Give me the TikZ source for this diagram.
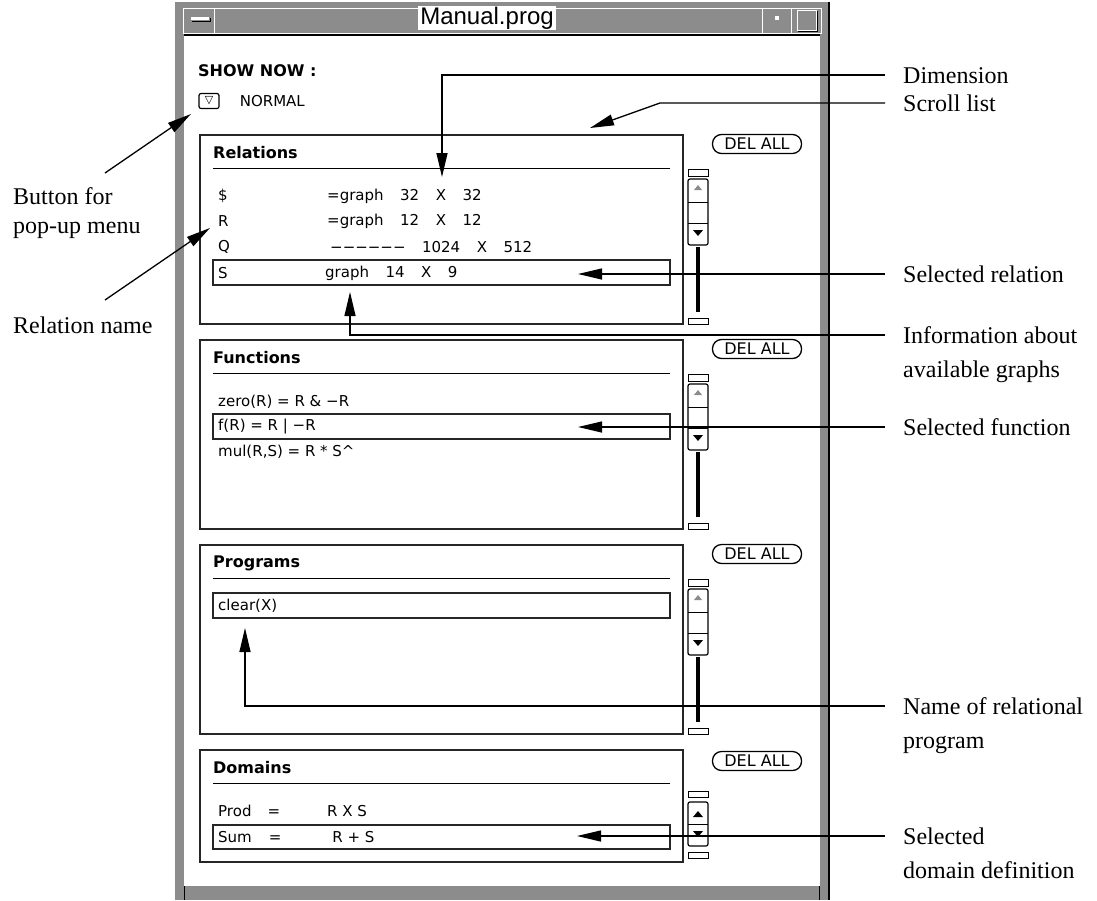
\documentclass[tikz,border=0pt]{standalone}
\usepackage{fontspec}
\setmainfont{Liberation Serif}
\newfontfamily\uifont{DejaVu Sans}
\newfontfamily\titlefont{Liberation Sans}
\usetikzlibrary{arrows.meta, positioning, calc}
\newcommand{\colgap}{\hspace{1.1em}}

\tikzset{
  lbl/.style={font=\fontsize{24}{34}\selectfont, anchor=base west, align=left, inner sep=0pt},
  ui/.style={font=\uifont\fontsize{15}{18}\selectfont, anchor=west, inner sep=0pt},
  uibold/.style={font=\uifont\bfseries\fontsize{16}{18}\selectfont, anchor=west, inner sep=0pt},
  panel/.style={draw=black!85, line width=1.2pt},
  selbox/.style={draw=black!85, line width=1.2pt},
  delall/.style={draw, line width=1.3pt, rounded corners=9pt, minimum width=89pt, minimum height=19pt, inner sep=0pt, font=\uifont\fontsize{16}{18}\selectfont},
  callout/.style={line width=1.3pt, -{Triangle[length=24pt,width=11pt]}},
}

\begin{document}
\begin{tikzpicture}[x=1pt, y=-1pt]
\useasboundingbox (0,0) rectangle (1097,900);

% Window frame and title bar
\fill[black!45] (175,2) rectangle (828,900);
\draw[line width=2pt] (829,2) -- (829,900);
\fill[white] (184,35) rectangle (820,886);
\draw[line width=1.5pt] (184,35) -- (820,35);
\draw[white, line width=0.8pt] (183,8) rectangle (821,33);
\draw[white, line width=0.8pt] (214,8) -- (214,33) (762,8) -- (762,33) (791,8) -- (791,33);
\fill[white] (191,17) rectangle (209,20);
\draw[line width=1pt] (192,21) -- (210,21) -- (210,18);
\fill[white] (775,16) rectangle (779,20);
\draw[white, line width=0.8pt] (797,10) rectangle (816,30);
\draw[line width=1pt] (798,31) -- (817,31) -- (817,11);
\draw[line width=1pt] (184,886) -- (184,900) (819,886) -- (819,900);
\node[fill=white, inner xsep=2pt, inner ysep=1pt, font=\titlefont\fontsize{24}{26}\selectfont] (title) at (487,18) {Manual.prog};

% Show now selector
\node[uibold] (shownow) at (198,71) {SHOW NOW :};
\node[draw, line width=1.2pt, rounded corners=2pt, minimum width=20pt, minimum height=15pt, inner sep=0pt, font=\uifont\fontsize{11}{12}\selectfont] (menubtn) at (209,101) {▽};
\node[ui, right=20pt of menubtn] (mode) {NORMAL};

% Relations
\draw[panel] (200,135) rectangle (683,324);
\node[uibold] (reltitle) at (213,153) {Relations};
\draw[line width=1pt] (213,168) -- (670,168);
\node[ui] (r1name) at (218,196) {\$};
\node[ui] (r1val) at (327,196) {=graph\colgap 32\colgap X\colgap 32};
\node[ui] (r2name) at (218,221) {R};
\node[ui] (r2val) at (327,221) {=graph\colgap 12\colgap X\colgap 12};
\node[ui] (r3name) at (218,247) {Q};
\node[ui] (r3val) at (330,247) {−−−−−−\colgap 1024\colgap X\colgap 512};
\draw[selbox] (213,260) rectangle (670,285);
\node[ui] (r4name) at (218,273) {S};
\node[ui] (r4val) at (325,273) {graph\colgap 14\colgap X\colgap 9};

% Functions
\draw[panel] (200,340) rectangle (683,529);
\node[uibold] (funtitle) at (213,358) {Functions};
\draw[line width=1pt] (213,373) -- (670,373);
\node[ui] (f1) at (218,402) {zero(R) = R \& −R};
\draw[selbox] (213,414) rectangle (670,439);
\node[ui] (f2) at (218,427) {f(R) = R | −R};
\node[ui] (f3) at (218,452) {mul(R,S) = R * S\textasciicircum};

% Programs
\draw[panel] (200,545) rectangle (683,734);
\node[uibold] (progtitle) at (213,563) {Programs};
\draw[line width=1pt] (213,578) -- (670,578);
\draw[selbox] (213,593) rectangle (670,618);
\node[ui] (p1) at (218,606) {clear(X)};

% Domains
\draw[panel] (200,750) rectangle (683,862);
\node[uibold] (domtitle) at (213,768) {Domains};
\draw[line width=1pt] (213,783) -- (670,783);
\node[ui] (d1) at (218,811) {Prod\hspace{16pt}=\hspace{47pt}R X S};
\draw[selbox] (213,825) rectangle (670,849);
\node[ui] (d2) at (218,837) {Sum\hspace{17pt}=\hspace{51pt}R + S};

% Scroll bars and buttons
\foreach \o/\n in {0/rel,205/fun,410/prog} {
  \node[delall] (del\n) at (757,144+\o) {DEL ALL};
  \draw[line width=1pt] (688,169+\o) rectangle (708,176+\o);
  \draw[line width=1.2pt, rounded corners=2pt] (688,179+\o) rectangle (708,245+\o);
  \draw[line width=1pt] (688,202+\o) -- (708,202+\o) (688,223+\o) -- (708,223+\o);
  \fill[black!45] (694,190+\o) -- (698,185+\o) -- (702,190+\o) -- cycle;
  \fill (693,230+\o) -- (703,230+\o) -- (698,236+\o) -- cycle;
  \draw[line width=4pt] (698,247+\o) -- (698,312+\o);
  \draw[line width=1pt] (688,318+\o) rectangle (708,324+\o);
}
\node[delall] (deldom) at (757,761) {DEL ALL};
\draw[line width=1pt] (688,791) rectangle (708,797);
\draw[line width=1.2pt, rounded corners=2pt] (688,802) rectangle (708,846);
\draw[line width=1pt] (688,824) -- (708,824);
\fill (693,817) -- (703,817) -- (698,811) -- cycle;
\fill (693,831) -- (703,831) -- (698,837) -- cycle;
\draw[line width=1pt] (688,852) rectangle (708,858);

% Labels (base = last line)
\node[lbl] (dim) at (903,83) {Dimension};
\node[lbl] (scroll) at (903,111) {Scroll list};
\node[lbl] (selrel) at (903,282) {Selected relation};
\node[lbl] (info) at (903,377) {Information about\\available graphs};
\node[lbl] (selfun) at (903,435) {Selected function};
\node[lbl] (progname) at (903,748) {Name of relational\\program};
\node[lbl] (seldom) at (903,878) {Selected\\domain definition};
\node[lbl, font=\fontsize{24}{29}\selectfont] (btnlbl) at (13,233) {Button for\\pop-up menu};
\node[lbl] (relname) at (13,333) {Relation name};

% Arrow tips
\coordinate (dimtip) at (442,177);
\coordinate (scrollbend) at (660,103);
\coordinate (scrolltip) at (590,128);
\coordinate (selreltip) at (578,274);
\coordinate (infotip) at (350,292);
\coordinate (selfuntip) at (578,427);
\coordinate (progtip) at (245,628);
\coordinate (seldomtip) at (577,836);
\coordinate (btntip) at (191,114);
\coordinate (relnametip) at (210,228);

% Callouts
\draw[callout] ([xshift=-18pt,yshift=8pt]dim.base west) -| (dimtip);
\draw[callout] ([xshift=-18pt,yshift=8pt]scroll.base west) -- (scrollbend) -- (scrolltip);
\draw[callout] ([xshift=-18pt,yshift=8pt]selrel.base west) -- (selreltip);
\draw[callout] ([xshift=-18pt,yshift=42pt]info.base west) -| (infotip);
\draw[callout] ([xshift=-18pt,yshift=8pt]selfun.base west) -- (selfuntip);
\draw[callout] ([xshift=-18pt,yshift=42pt]progname.base west) -| (progtip);
\draw[callout] ([xshift=-18pt,yshift=42pt]seldom.base west) -- (seldomtip);
\draw[callout] ([xshift=92pt,yshift=60pt]btnlbl.base west) -- (btntip);
\draw[callout] ([xshift=92pt,yshift=33pt]relname.base west) -- (relnametip);

\end{tikzpicture}
\end{document}
